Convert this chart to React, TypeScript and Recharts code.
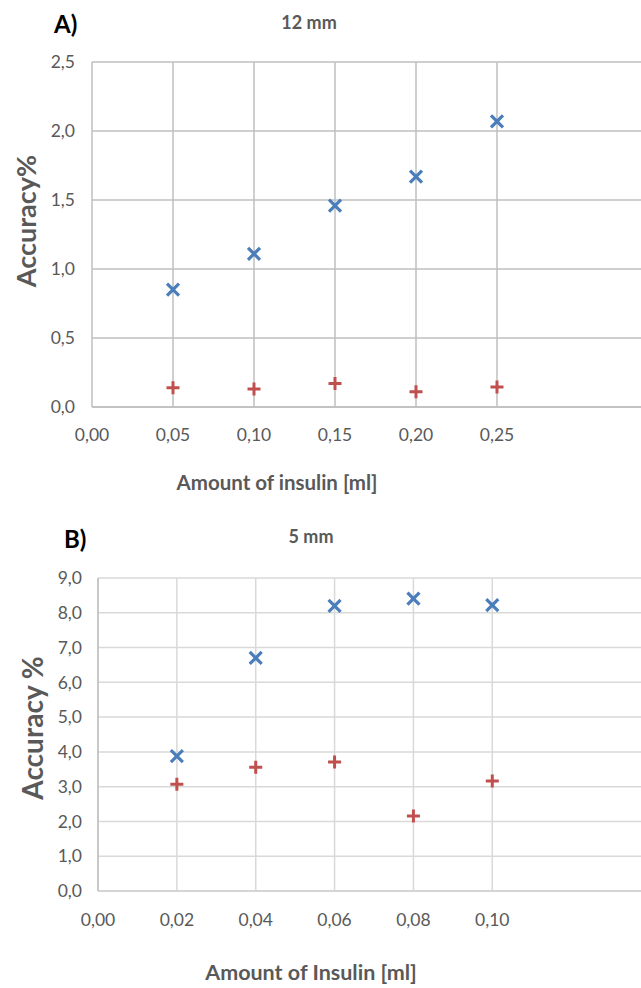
import React from 'react';
import { ScatterChart, Scatter, XAxis, YAxis, CartesianGrid } from 'recharts';

// Panel A (12 mm)
const A_X = [0.05, 0.1, 0.15, 0.2, 0.25];
const A_BLUE = [0.85, 1.11, 1.46, 1.67, 2.07];
const A_RED = [0.14, 0.13, 0.17, 0.11, 0.145];
const A_X_TICKS = [0, 0.05, 0.1, 0.15, 0.2, 0.25];
const A_Y_TICKS = [0, 0.5, 1, 1.5, 2, 2.5];

// Panel B (5 mm)
const B_X = [0.02, 0.04, 0.06, 0.08, 0.1];
const B_BLUE = [3.88, 6.7, 8.2, 8.41, 8.22];
const B_RED = [3.07, 3.56, 3.71, 2.16, 3.16];
const B_X_TICKS = [0, 0.02, 0.04, 0.06, 0.08, 0.1];
const B_Y_TICKS = [0, 1, 2, 3, 4, 5, 6, 7, 8, 9];

const GRAY = '#595959';
const BLUE = '#4a7ebb';
const RED = '#c0504d';

const fmt2 = (v: number) => v.toFixed(2).replace('.', ',');
const fmt1 = (v: number) => v.toFixed(1).replace('.', ',');

const XMark = (p: any) => {
  const { cx, cy } = p;
  const r = 6;
  return (
    <path
      d={`M${cx - r},${cy - r}L${cx + r},${cy + r}M${cx - r},${cy + r}L${cx + r},${cy - r}`}
      stroke={BLUE}
      strokeWidth={3.2}
      fill="none"
    />
  );
};

const PlusMark = (p: any) => {
  const { cx, cy } = p;
  const r = 6.5;
  return (
    <path
      d={`M${cx - r},${cy}L${cx + r},${cy}M${cx},${cy - r}L${cx},${cy + r}`}
      stroke={RED}
      strokeWidth={3}
      fill="none"
    />
  );
};

const toPts = (xs: number[], ys: number[]) => xs.map((x, i) => ({ x, y: ys[i] }));

const tickStyle = { fill: GRAY, fontSize: 17.5, fontFamily: 'Lato' };

export default function App() {
  return (
    <div
      style={{
        position: 'fixed',
        top: 0,
        left: 0,
        width: 641,
        height: 988,
        overflow: 'hidden',
        background: '#fff',
        fontFamily: 'Lato',
      }}
    >
      <div style={{ position: 'absolute', top: 0, left: 0, width: 641, height: 520 }}>
        <ScatterChart width={641} height={520} margin={{ top: 62, right: -18, bottom: 13, left: 0 }}>
          <CartesianGrid stroke="#bfbfbf" strokeWidth={1.5} />
          <XAxis
            type="number"
            dataKey="x"
            domain={[0, 0.35]}
            ticks={A_X_TICKS}
            interval={0}
            tickFormatter={fmt2}
            tick={tickStyle}
            tickLine={false}
            tickSize={0}
            tickMargin={22}
            axisLine={{ stroke: '#bfbfbf', strokeWidth: 1.5 }}
            height={100}
            label={{
              content: () => (
                <text x={277} y={490} textAnchor="middle" fill={GRAY} fontSize={20.5} fontWeight="bold" fontFamily="Lato">
                  Amount of insulin [ml]
                </text>
              ),
            }}
          />
          <YAxis
            type="number"
            dataKey="y"
            domain={[0, 2.5]}
            ticks={A_Y_TICKS}
            interval={0}
            tickFormatter={fmt1}
            tick={tickStyle}
            tickLine={false}
            tickSize={0}
            tickMargin={17}
            axisLine={false}
            width={92}
            label={{
              content: () => (
                <text
                  transform="translate(36,221) rotate(-90)"
                  x={0}
                  y={0}
                  textAnchor="middle"
                  fill={GRAY}
                  fontSize={27}
                  fontWeight="bold"
                  fontFamily="Lato"
                >
                  Accuracy%
                </text>
              ),
            }}
          />
          <Scatter data={toPts(A_X, A_BLUE)} shape={XMark} isAnimationActive={false} />
          <Scatter data={toPts(A_X, A_RED)} shape={PlusMark} isAnimationActive={false} />
        </ScatterChart>
        <svg width={641} height={60} style={{ position: 'absolute', top: 0, left: 0, pointerEvents: 'none' }}>
          <text x={54} y={33} fill="#000" fontSize={24} fontWeight="bold" fontFamily="Lato">
            A)
          </text>
          <text x={309} y={29} textAnchor="middle" fill={GRAY} fontSize={18} fontWeight="bold" fontFamily="Lato">
            12 mm
          </text>
        </svg>
      </div>

      <div style={{ position: 'absolute', top: 500, left: 0, width: 641, height: 488 }}>
        <ScatterChart width={641} height={488} margin={{ top: 78, right: -9, bottom: 7, left: 0 }}>
          <CartesianGrid stroke="#d9d9d9" strokeWidth={1.5} />
          <XAxis
            type="number"
            dataKey="x"
            domain={[0, 0.14]}
            ticks={B_X_TICKS}
            interval={0}
            tickFormatter={fmt2}
            tick={tickStyle}
            tickLine={false}
            tickSize={0}
            tickMargin={23}
            axisLine={{ stroke: '#d0d0d0', strokeWidth: 1.5 }}
            height={90}
            label={{
              content: () => (
                <text x={311} y={480} textAnchor="middle" fill={GRAY} fontSize={21.5} fontWeight="bold" fontFamily="Lato">
                  Amount of Insulin [ml]
                </text>
              ),
            }}
          />
          <YAxis
            type="number"
            dataKey="y"
            domain={[0, 9]}
            ticks={B_Y_TICKS}
            interval={0}
            tickFormatter={fmt1}
            tick={tickStyle}
            tickLine={false}
            tickSize={0}
            tickMargin={16}
            axisLine={{ stroke: '#bfbfbf', strokeWidth: 1.5 }}
            width={98}
            label={{
              content: () => (
                <text
                  transform="translate(43,228) rotate(-90)"
                  x={0}
                  y={0}
                  textAnchor="middle"
                  fill={GRAY}
                  fontSize={28}
                  fontWeight="bold"
                  fontFamily="Lato"
                >
                  Accuracy %
                </text>
              ),
            }}
          />
          <Scatter data={toPts(B_X, B_BLUE)} shape={XMark} isAnimationActive={false} />
          <Scatter data={toPts(B_X, B_RED)} shape={PlusMark} isAnimationActive={false} />
        </ScatterChart>
        <svg width={641} height={60} style={{ position: 'absolute', top: 0, left: 0, pointerEvents: 'none' }}>
          <text x={64} y={48} fill="#000" fontSize={24} fontWeight="bold" fontFamily="Lato">
            B)
          </text>
          <text x={311} y={43} textAnchor="middle" fill={GRAY} fontSize={18} fontWeight="bold" fontFamily="Lato">
            5 mm
          </text>
        </svg>
      </div>
    </div>
  );
}
